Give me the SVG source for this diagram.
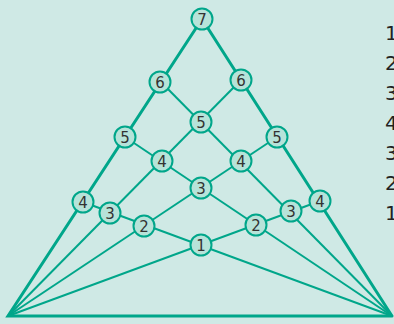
<svg xmlns="http://www.w3.org/2000/svg" width="394" height="324" viewBox="0 0 394 324">
<style>
.edge{stroke:#00a68a;stroke-width:3;fill:none;stroke-linecap:round}
.ln{stroke:#00a68a;stroke-width:2;fill:none}
.nd circle{fill:#b7e3d9;stroke:#00a68a;stroke-width:2}
.nd text{font-family:"DejaVu Sans",Verdana,sans-serif;font-size:15px;fill:#333;text-anchor:middle}
.side{font-family:"DejaVu Sans",Verdana,sans-serif;font-size:20px;fill:#222}
</style>
<rect width="394" height="324" fill="#cfe9e5"/>
<g id="connectors">
<line class="ln" x1="8" y1="316" x2="241" y2="80"/>
<line class="ln" x1="8" y1="316" x2="277" y2="137"/>
<line class="ln" x1="8" y1="316" x2="320" y2="201"/>
<line class="ln" x1="392" y1="316" x2="161" y2="82"/>
<line class="ln" x1="392" y1="316" x2="125" y2="137"/>
<line class="ln" x1="392" y1="316" x2="83" y2="202"/>
<polyline class="edge" points="392,316 8,316 202,19 392,316"/>
</g>
<g id="n7" class="nd"><circle cx="202" cy="19" r="10.5"/><text x="202" y="24.5">7</text></g>
<g id="n6l" class="nd"><circle cx="160" cy="82" r="10.5"/><text x="160" y="87.5">6</text></g>
<g id="n6r" class="nd"><circle cx="241" cy="80" r="10.5"/><text x="241" y="85.5">6</text></g>
<g id="n5l" class="nd"><circle cx="125" cy="137" r="10.5"/><text x="125" y="142.5">5</text></g>
<g id="n5c" class="nd"><circle cx="201" cy="122" r="10.5"/><text x="201" y="127.5">5</text></g>
<g id="n5r" class="nd"><circle cx="277" cy="137" r="10.5"/><text x="277" y="142.5">5</text></g>
<g id="n4l" class="nd"><circle cx="83" cy="202" r="10.5"/><text x="83" y="207.5">4</text></g>
<g id="n4lc" class="nd"><circle cx="162" cy="161" r="10.5"/><text x="162" y="166.5">4</text></g>
<g id="n4rc" class="nd"><circle cx="241" cy="161" r="10.5"/><text x="241" y="166.5">4</text></g>
<g id="n4r" class="nd"><circle cx="320" cy="201" r="10.5"/><text x="320" y="206.5">4</text></g>
<g id="n3l" class="nd"><circle cx="110" cy="213" r="10.5"/><text x="110" y="218.5">3</text></g>
<g id="n3c" class="nd"><circle cx="201" cy="188" r="10.5"/><text x="201" y="193.5">3</text></g>
<g id="n3r" class="nd"><circle cx="291" cy="211" r="10.5"/><text x="291" y="216.5">3</text></g>
<g id="n2l" class="nd"><circle cx="144" cy="226" r="10.5"/><text x="144" y="231.5">2</text></g>
<g id="n2r" class="nd"><circle cx="256" cy="225" r="10.5"/><text x="256" y="230.5">2</text></g>
<g id="n1" class="nd"><circle cx="201" cy="245" r="10.5"/><text x="201" y="250.5">1</text></g>
<g id="side">
<text class="side" x="385" y="40">1</text>
<text class="side" x="385" y="70">2</text>
<text class="side" x="385" y="100">3</text>
<text class="side" x="385" y="130">4</text>
<text class="side" x="385" y="160">3</text>
<text class="side" x="385" y="190">2</text>
<text class="side" x="385" y="220">1</text>
</g>
</svg>
